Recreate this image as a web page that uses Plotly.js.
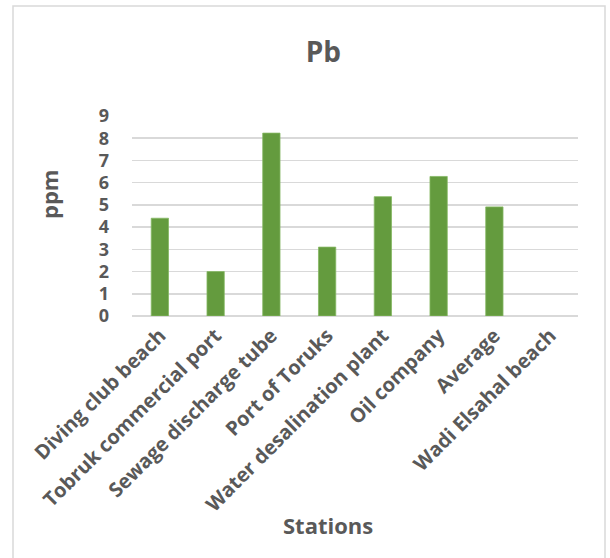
<!DOCTYPE html>
<html>
<head>
<meta charset="utf-8">
<script src="https://cdn.plot.ly/plotly-3.0.1.min.js"></script>
<style>
  html, body { margin: 0; padding: 0; background: #ffffff; }
  #chart { width: 610px; height: 558px; }
</style>
</head>
<body>
<div id="chart"></div>
<script>
// Pb concentration (ppm) by sampling station
const stations = [
  "Diving club beach",
  "Tobruk commercial port",
  "Sewage discharge tube",
  "Port of Toruks",
  "Water desalination plant",
  "Oil company",
  "Average",
  "Wadi Elsahal beach"
];
const pbValues = [4.4, 2.0, 8.23, 3.1, 5.37, 6.28, 4.91, null];
const yTicks = [0, 1, 2, 3, 4, 5, 6, 7, 8, 9];

const FONT = "'Open Sans', sans-serif";
const GREY = "#595959";

const trace = {
  type: "bar",
  x: stations,
  y: pbValues,
  marker: { color: "#649b3e", line: { color: "#85b863", width: 0.8 } },
  hoverinfo: "x+y"
};

const layout = {
  width: 610,
  height: 558,
  margin: { l: 132, r: 32, t: 116, b: 242 },
  paper_bgcolor: "#ffffff",
  plot_bgcolor: "#ffffff",
  showlegend: false,
  bargap: 0.69,
  font: { family: FONT, color: GREY },
  title: {
    text: "<b>Pb</b>",
    font: { family: FONT, size: 28, color: GREY },
    xref: "container", x: 0.53, xanchor: "center",
    yref: "container", y: 0.907, yanchor: "middle"
  },
  xaxis: {
    type: "category",
    tickangle: -45,
    tickfont: { family: FONT, size: 20, color: GREY, weight: "bold" },
    showgrid: false,
    showline: false,
    ticks: "",
    ticklabelstandoff: 3,
    fixedrange: true
  },
  yaxis: {
    range: [0, 9],
    tickvals: yTicks,
    ticktext: yTicks.map(String),
    tickfont: { family: FONT, size: 18, color: GREY, weight: "bold" },
    showgrid: true,
    gridcolor: "#d9d9d9",
    gridwidth: 1.5,
    zeroline: true,
    zerolinecolor: "#d9d9d9",
    zerolinewidth: 1.5,
    showline: false,
    ticks: "",
    ticklabelstandoff: 22,
    fixedrange: true
  },
  annotations: [
    {
      text: "<b>ppm</b>",
      xref: "paper", yref: "paper",
      x: (49 - 132) / 446, y: (316 - 195) / 200,
      xanchor: "center", yanchor: "middle",
      textangle: -90,
      showarrow: false,
      font: { family: FONT, size: 22, color: GREY }
    },
    {
      text: "<b>Stations</b>",
      xref: "paper", yref: "paper",
      x: (328 - 132) / 446, y: (316 - 525) / 200,
      xanchor: "center", yanchor: "middle",
      showarrow: false,
      font: { family: FONT, size: 22, color: GREY }
    }
  ],
  shapes: [
    {
      type: "rect",
      xref: "paper", yref: "paper",
      x0: (13 - 132) / 446, x1: (605 - 132) / 446,
      y0: (316 - 562) / 200, y1: (316 - 6) / 200,
      line: { color: "#d9d9d9", width: 1.5 },
      fillcolor: "rgba(0,0,0,0)",
      layer: "below"
    }
  ]
};

Plotly.newPlot("chart", [trace], layout, { displayModeBar: false, staticPlot: true });
</script>
</body>
</html>
